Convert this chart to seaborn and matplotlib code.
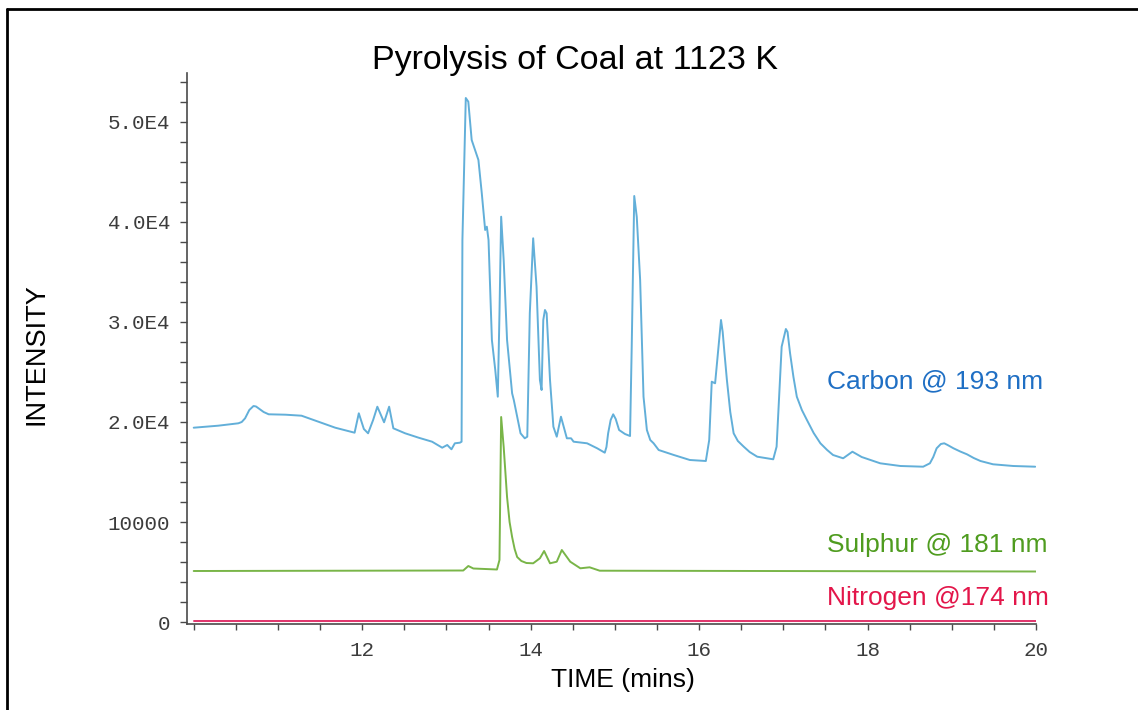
import numpy as np
import pandas as pd
import matplotlib
matplotlib.use("Agg")
import matplotlib.pyplot as plt
from matplotlib.lines import Line2D
from matplotlib.ticker import FixedLocator, FixedFormatter, MultipleLocator
import seaborn as sns

# Carbon emission trace (193 nm)
carbon_time = [
    10.00, 10.29, 10.53, 10.57, 10.61, 10.66, 10.71, 10.74, 10.77, 10.83,
    10.89, 11.09, 11.28, 11.48, 11.68, 11.86, 11.91, 11.96, 12.02, 12.07,
    12.13, 12.18, 12.26, 12.32, 12.37, 12.51, 12.67, 12.83, 12.95, 13.01,
    13.06, 13.10, 13.16, 13.18, 13.19, 13.23, 13.26, 13.30, 13.38, 13.42,
    13.46, 13.48, 13.50, 13.54, 13.58, 13.61, 13.63, 13.65, 13.68, 13.72,
    13.78, 13.80, 13.88, 13.93, 13.96, 13.99, 14.03, 14.07, 14.11, 14.13,
    14.15, 14.17, 14.19, 14.23, 14.27, 14.31, 14.36, 14.43, 14.48, 14.51,
    14.67, 14.79, 14.88, 14.90, 14.92, 14.95, 14.98, 15.01, 15.05, 15.12,
    15.18, 15.20, 15.23, 15.26, 15.30, 15.34, 15.38, 15.42, 15.46, 15.52,
    15.70, 15.89, 16.08, 16.12, 16.15, 16.19, 16.26, 16.28, 16.30, 16.33,
    16.37, 16.41, 16.46, 16.53, 16.60, 16.69, 16.88, 16.92, 16.98, 17.03,
    17.05, 17.08, 17.12, 17.16, 17.22, 17.28, 17.36, 17.44, 17.52, 17.59,
    17.71, 17.82, 17.93, 18.15, 18.39, 18.66, 18.74, 18.78, 18.82, 18.87,
    18.91, 18.95, 19.02, 19.10, 19.18, 19.26, 19.34, 19.49, 19.73, 19.99,
]
carbon_intensity = [
    19430, 19630, 19870, 20000, 20370, 21200, 21600, 21550, 21370, 21000,
    20770, 20730, 20630, 20030, 19430, 19030, 18930, 20870, 19300, 18870,
    20200, 21530, 19970, 21530, 19370, 18870, 18430, 18030, 17430, 17700,
    17270, 17870, 17930, 18030, 38200, 52400, 52030, 48200, 46200, 42870,
    39200, 39530, 38200, 28200, 25200, 22530, 30870, 40530, 36200, 28200,
    22870, 22200, 18870, 18370, 18530, 30870, 38370, 33530, 24200, 23200,
    30200, 31200, 30870, 24200, 19530, 18530, 20530, 18370, 18370, 18030,
    17870, 17370, 16930, 17500, 18870, 20200, 20770, 20300, 19200, 18800,
    18600, 27530, 42600, 40500, 34200, 22530, 19200, 18200, 17870, 17200,
    16700, 16200, 16100, 18200, 24030, 23870, 30200, 29000, 27000, 24200,
    21000, 18870, 18100, 17530, 17000, 16530, 16270, 17530, 27530, 29300,
    29000, 26870, 24500, 22530, 21200, 20200, 18900, 17870, 17200, 16700,
    16370, 17030, 16500, 15870, 15600, 15530, 15870, 16500, 17370, 17800,
    17870, 17700, 17370, 17050, 16770, 16400, 16100, 15770, 15600, 15530,
]

# Sulphur emission trace (181 nm)
sulphur_time = [
    10.00, 13.20, 13.26, 13.32, 13.60, 13.63, 13.65, 13.68, 13.70, 13.72,
    13.75, 13.78, 13.81, 13.84, 13.89, 13.95, 14.03, 14.11, 14.16, 14.23,
    14.31, 14.37, 14.47, 14.59, 14.70, 14.82, 20.00,
]
sulphur_intensity = [
    5100, 5150, 5600, 5350, 5250, 6200, 20500, 17500, 15000, 12500,
    10000, 8500, 7300, 6500, 6100, 5900, 5870, 6370, 7100, 5870,
    6030, 7200, 6030, 5370, 5470, 5130, 5050,
]

# Nitrogen emission trace (174 nm)
nitrogen_time = [10.00, 20.00]
nitrogen_intensity = [100, 100]

series_names = ["Carbon @ 193 nm", "Sulphur @ 181 nm", "Nitrogen @174 nm"]
line_colors = ["#62afd9", "#79b548", "#e0336a"]
text_colors = ["#1f6fc4", "#4f9c1f", "#e3164a"]
label_positions = [(17.52, 24100), (17.52, 7750), (17.52, 2400)]

x_major = [12, 14, 16, 18, 20]
x_labels = ["12", "14", "16", "18", "20"]
y_major = [0, 10000, 20000, 30000, 40000, 50000]
y_labels = ["0", "10000", "2.0E4", "3.0E4", "4.0E4", "5.0E4"]

frames = []
for name, t, v in zip(series_names,
                      [carbon_time, sulphur_time, nitrogen_time],
                      [carbon_intensity, sulphur_intensity, nitrogen_intensity]):
    frames.append(pd.DataFrame({"time": t, "intensity": v, "series": name}))
df = pd.concat(frames, ignore_index=True)

sns.set_theme(style="ticks")
plt.rcParams["font.family"] = ["Liberation Sans", "DejaVu Sans"]

fig = plt.figure(figsize=(11.38, 7.10), dpi=100)
fig.patch.set_facecolor("white")
ax = fig.add_axes([0.1643, 0.1207, 0.7461, 0.7765])

sns.lineplot(data=df, x="time", y="intensity", hue="series",
             hue_order=series_names, palette=line_colors,
             linewidth=1.4, legend=False, ax=ax)

ax.set_xlim(9.92, 20.0)
ax.set_ylim(-230, 54900)
ax.set_xlabel("")
ax.set_ylabel("")
sns.despine(ax=ax)
for side in ("left", "bottom"):
    ax.spines[side].set_color("#4a4a4a")
    ax.spines[side].set_linewidth(1.2)

ax.xaxis.set_major_locator(FixedLocator(x_major))
ax.xaxis.set_major_formatter(FixedFormatter(x_labels))
ax.xaxis.set_minor_locator(MultipleLocator(0.5))
ax.yaxis.set_major_locator(FixedLocator(y_major))
ax.yaxis.set_major_formatter(FixedFormatter(y_labels))
ax.yaxis.set_minor_locator(MultipleLocator(2000))

ax.tick_params(axis="both", which="both", direction="out", color="#4a4a4a",
               width=1.0, labelsize=15, labelcolor="#3c3c3c")
ax.tick_params(axis="y", which="both", length=5, pad=7)
ax.tick_params(axis="x", which="both", length=4, pad=8)
for lbl in ax.get_xticklabels() + ax.get_yticklabels():
    lbl.set_fontfamily("Liberation Mono")

for name, color, (tx, ty) in zip(series_names, text_colors, label_positions):
    ax.text(tx, ty, name, color=color, fontsize=19, ha="left", va="center")

fig.text(0.505, 0.915, "Pyrolysis of Coal at 1123 K", ha="center", va="center",
         fontsize=24.5, color="black")
fig.text(0.0325, 0.501, "INTENSITY", rotation=90, ha="center", va="center",
         fontsize=19.5, color="black")
fig.text(0.547, 0.042, "TIME (mins)", ha="center", va="center",
         fontsize=19, color="black")

# page border
fig.add_artist(Line2D([7 / 1138, 7 / 1138], [0, 1 - 9 / 710],
                      transform=fig.transFigure, color="black", lw=2))
fig.add_artist(Line2D([7 / 1138, 1], [1 - 9 / 710, 1 - 9 / 710],
                      transform=fig.transFigure, color="black", lw=2))

fig.savefig("out.png", dpi=100, facecolor="white")
